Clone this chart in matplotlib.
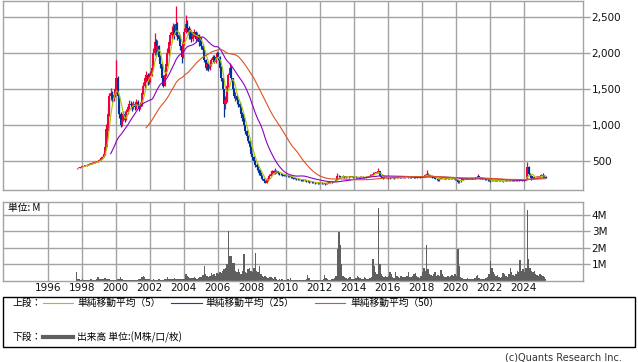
import numpy as np
import pandas as pd
import matplotlib
matplotlib.use("Agg")
import matplotlib.pyplot as plt
from matplotlib.patches import Rectangle
from matplotlib.lines import Line2D

# ---------------- data (monthly, 1997-09 .. 2025-04) ----------------
start_month = "1997-09"
end_month = "2025-04"

close_1997 = [400, 410, 420, 425]
close_1998 = [430, 440, 445, 450, 455, 462, 470, 478, 485, 492, 500, 510]
close_1999 = [520, 540, 560, 600, 700, 950, 1150, 1400, 1450, 1380, 1420, 1500]
close_2000 = [1650, 1400, 1150, 1000, 1080, 1150, 1100, 1180, 1250, 1300, 1280, 1260]
close_2001 = [1300, 1250, 1320, 1270, 1250, 1280, 1450, 1550, 1650, 1700, 1620, 1680]
close_2002 = [1700, 1800, 2000, 2150, 2050, 2100, 1950, 1850, 1650, 1550, 1700, 1850]
close_2003 = [2000, 2150, 2250, 2300, 2350, 2250, 2400, 2250, 2200, 2100, 1950, 2150]
close_2004 = [2300, 2400, 2350, 2250, 2300, 2200, 2250, 2300, 2200, 2250, 2150, 2200]
close_2005 = [2100, 2050, 1900, 1800, 1850, 1780, 1850, 1900, 1950, 1880, 1950, 2000]
close_2006 = [1950, 1800, 1650, 1500, 1300, 1350, 1550, 1700, 1800, 1650, 1500, 1400]
close_2007 = [1400, 1350, 1300, 1250, 1150, 1100, 1000, 920, 850, 780, 700, 600]
close_2008 = [560, 500, 450, 420, 380, 340, 300, 260, 230, 200, 240, 260]
close_2009 = [300, 330, 360, 340, 370, 360, 340, 330, 320, 310, 300, 305]
close_2010 = [300, 295, 290, 280, 270, 262, 258, 255, 250, 245, 240, 238]
close_2011 = [235, 238, 225, 220, 215, 218, 212, 205, 200, 205, 195, 200]
close_2012 = [205, 200, 195, 185, 190, 200, 210, 215, 210, 220, 232, 240]
close_2013 = [300, 290, 280, 285, 290, 275, 280, 285, 280, 290, 285, 280]
close_2014 = [285, 280, 275, 270, 280, 285, 280, 275, 280, 285, 290, 300]
close_2015 = [310, 330, 340, 345, 350, 360, 300, 280, 270, 275, 280, 270]
close_2016 = [265, 270, 275, 270, 265, 270, 275, 280, 275, 270, 275, 280]
close_2017 = [280, 285, 280, 275, 280, 285, 280, 278, 282, 285, 280, 285]
close_2018 = [290, 300, 310, 330, 310, 295, 285, 280, 270, 260, 250, 235]
close_2019 = [255, 265, 270, 265, 260, 265, 260, 255, 260, 262, 258, 250]
close_2020 = [240, 215, 220, 240, 250, 255, 260, 258, 262, 260, 265, 262]
close_2021 = [265, 268, 275, 290, 275, 265, 260, 255, 250, 245, 240, 235]
close_2022 = [225, 230, 235, 232, 228, 230, 235, 232, 228, 225, 230, 235]
close_2023 = [232, 235, 238, 236, 240, 238, 236, 240, 238, 242, 240, 245]
close_2024 = [240, 250, 420, 330, 300, 270, 265, 275, 285, 280, 290, 300]
close_2025 = [310, 300, 285, 280]

high_1997 = [410, 415, 425, 432]
high_1998 = [438, 448, 452, 458, 462, 470, 478, 485, 492, 500, 510, 522]
high_1999 = [535, 555, 580, 640, 760, 1020, 1250, 1450, 1520, 1480, 1460, 1550]
high_2000 = [1900, 1680, 1420, 1180, 1150, 1200, 1200, 1220, 1300, 1350, 1340, 1310]
high_2001 = [1340, 1330, 1360, 1350, 1300, 1320, 1480, 1600, 1700, 1760, 1720, 1720]
high_2002 = [1760, 1870, 2080, 2280, 2200, 2180, 2120, 1980, 1880, 1700, 1750, 1900]
high_2003 = [2080, 2200, 2300, 2380, 2420, 2400, 2660, 2430, 2300, 2250, 2130, 2200]
high_2004 = [2350, 2530, 2460, 2380, 2350, 2320, 2300, 2340, 2310, 2290, 2270, 2240]
high_2005 = [2230, 2130, 2060, 1920, 1880, 1870, 1880, 1930, 1980, 1970, 1980, 2030]
high_2006 = [2020, 1960, 1820, 1660, 1510, 1400, 1580, 1730, 1860, 1820, 1660, 1520]
high_2007 = [1460, 1420, 1370, 1320, 1260, 1180, 1110, 1010, 930, 860, 790, 710]
high_2008 = [620, 580, 520, 470, 430, 390, 345, 305, 270, 240, 270, 290]
high_2009 = [320, 360, 380, 380, 400, 385, 370, 350, 340, 330, 320, 320]
high_2010 = [320, 310, 305, 298, 285, 275, 270, 265, 262, 258, 252, 250]
high_2011 = [250, 252, 245, 235, 230, 228, 225, 218, 212, 215, 210, 210]
high_2012 = [215, 212, 205, 198, 200, 210, 220, 225, 222, 228, 242, 260]
high_2013 = [340, 310, 295, 300, 305, 295, 290, 295, 290, 300, 295, 290]
high_2014 = [295, 290, 285, 282, 290, 295, 290, 285, 290, 295, 300, 320]
high_2015 = [330, 345, 355, 355, 365, 410, 360, 300, 285, 285, 290, 285]
high_2016 = [275, 280, 285, 282, 275, 280, 285, 290, 285, 280, 285, 290]
high_2017 = [290, 295, 292, 285, 290, 295, 290, 288, 292, 295, 290, 295]
high_2018 = [300, 310, 320, 380, 335, 310, 298, 290, 282, 272, 262, 255]
high_2019 = [262, 272, 278, 275, 270, 272, 268, 263, 266, 270, 266, 260]
high_2020 = [255, 245, 235, 248, 256, 262, 266, 265, 268, 268, 272, 270]
high_2021 = [272, 275, 285, 320, 292, 278, 270, 264, 258, 252, 248, 242]
high_2022 = [238, 238, 242, 240, 236, 238, 242, 240, 236, 232, 238, 242]
high_2023 = [240, 242, 245, 244, 248, 246, 244, 248, 246, 250, 248, 252]
high_2024 = [250, 258, 495, 440, 340, 305, 280, 285, 295, 292, 300, 312]
high_2025 = [325, 335, 310, 292]

low_1997 = [395, 400, 408, 415]
low_1998 = [420, 428, 435, 440, 446, 450, 458, 465, 472, 480, 488, 495]
low_1999 = [505, 515, 535, 555, 590, 690, 920, 1130, 1350, 1330, 1340, 1390]
low_2000 = [1450, 1350, 1100, 980, 990, 1060, 1050, 1080, 1160, 1230, 1240, 1200]
low_2001 = [1230, 1210, 1230, 1240, 1200, 1230, 1270, 1430, 1520, 1600, 1560, 1580]
low_2002 = [1600, 1680, 1790, 1980, 1960, 1990, 1900, 1800, 1620, 1530, 1540, 1690]
low_2003 = [1830, 1980, 2120, 2200, 2250, 2200, 2240, 2180, 2150, 2050, 1860, 1930]
low_2004 = [2120, 2280, 2300, 2200, 2200, 2150, 2170, 2230, 2150, 2180, 2100, 2120]
low_2005 = [2060, 2000, 1880, 1770, 1770, 1760, 1770, 1830, 1880, 1860, 1870, 1940]
low_2006 = [1900, 1760, 1620, 1470, 1120, 1230, 1330, 1530, 1680, 1620, 1480, 1380]
low_2007 = [1340, 1290, 1250, 1200, 1120, 1060, 980, 880, 820, 750, 660, 580]
low_2008 = [520, 470, 420, 380, 350, 310, 270, 240, 210, 194, 200, 230]
low_2009 = [250, 290, 320, 320, 330, 340, 320, 315, 305, 295, 290, 290]
low_2010 = [290, 285, 280, 270, 262, 252, 248, 245, 240, 236, 232, 228]
low_2011 = [225, 228, 210, 210, 205, 208, 202, 195, 190, 195, 182, 188]
low_2012 = [195, 190, 185, 172, 178, 190, 200, 205, 200, 210, 222, 230]
low_2013 = [240, 275, 270, 275, 280, 265, 270, 275, 270, 278, 275, 270]
low_2014 = [275, 270, 265, 262, 268, 275, 272, 265, 270, 275, 282, 290]
low_2015 = [295, 310, 325, 335, 340, 340, 290, 270, 260, 265, 270, 262]
low_2016 = [255, 260, 265, 262, 258, 262, 265, 272, 268, 262, 266, 272]
low_2017 = [272, 276, 272, 268, 272, 276, 272, 270, 274, 276, 272, 276]
low_2018 = [280, 288, 298, 305, 300, 288, 278, 272, 262, 252, 240, 220]
low_2019 = [232, 252, 262, 258, 252, 256, 252, 248, 250, 255, 250, 242]
low_2020 = [235, 195, 205, 215, 238, 246, 252, 250, 254, 252, 258, 255]
low_2021 = [258, 260, 265, 272, 268, 258, 252, 248, 242, 238, 232, 226]
low_2022 = [218, 220, 226, 225, 220, 222, 226, 224, 220, 217, 222, 226]
low_2023 = [225, 228, 230, 228, 232, 230, 228, 232, 230, 234, 232, 236]
low_2024 = [232, 238, 248, 310, 280, 240, 255, 262, 272, 270, 278, 288]
low_2025 = [295, 288, 275, 270]

# volume in millions
vol_1997 = [0.5, 0.12, 0.08, 0.06]
vol_1998 = [0.08, 0.06, 0.05, 0.07, 0.05, 0.06, 0.08, 0.05, 0.06, 0.07, 0.1, 0.2]
vol_1999 = [0.12, 0.1, 0.08, 0.1, 0.15, 0.12, 0.1, 0.08, 0.06, 0.05, 0.07, 0.05]
vol_2000 = [0.05, 0.1, 0.12, 0.2, 0.08, 0.06, 0.05, 0.04, 0.05, 0.06, 0.05, 0.04]
vol_2001 = [0.04, 0.05, 0.06, 0.05, 0.08, 0.1, 0.25, 0.28, 0.2, 0.12, 0.1, 0.08]
vol_2002 = [0.06, 0.05, 0.08, 0.06, 0.05, 0.07, 0.1, 0.06, 0.05, 0.06, 0.12, 0.1]
vol_2003 = [0.2, 0.1, 0.08, 0.12, 0.1, 0.15, 0.12, 0.08, 0.1, 0.12, 0.1, 0.08]
vol_2004 = [0.1, 0.4, 0.3, 0.2, 0.15, 0.15, 0.18, 0.2, 0.15, 0.12, 0.15, 0.2]
vol_2005 = [0.2, 0.35, 0.9, 0.4, 0.3, 0.25, 0.3, 0.45, 0.35, 0.4, 0.3, 0.45]
vol_2006 = [0.4, 0.5, 0.45, 0.6, 0.7, 0.8, 1.0, 3.0, 1.5, 1.5, 1.1, 1.05]
vol_2007 = [0.6, 0.5, 0.7, 0.5, 0.4, 0.6, 1.6, 0.5, 0.45, 0.7, 0.8, 0.6]
vol_2008 = [0.5, 0.8, 1.7, 0.6, 0.5, 0.9, 0.4, 0.3, 0.25, 0.3, 0.2, 0.15]
vol_2009 = [0.2, 0.25, 0.15, 0.1, 0.2, 0.1, 0.05, 0.08, 0.05, 0.1, 0.05, 0.04]
vol_2010 = [0.05, 0.08, 0.05, 0.15, 0.05, 0.04, 0.06, 0.05, 0.04, 0.05, 0.06, 0.04]
vol_2011 = [0.05, 0.06, 0.1, 0.35, 0.15, 0.06, 0.05, 0.06, 0.05, 0.04, 0.05, 0.06]
vol_2012 = [0.05, 0.06, 0.1, 0.35, 0.15, 0.08, 0.06, 0.05, 0.08, 0.1, 0.15, 0.3]
vol_2013 = [1.9, 2.95, 2.2, 1.0, 0.3, 0.2, 0.15, 0.1, 0.15, 0.2, 0.12, 0.1]
vol_2014 = [0.1, 0.15, 0.3, 0.2, 0.15, 0.1, 0.12, 0.2, 0.15, 0.1, 0.12, 0.15]
vol_2015 = [0.2, 1.3, 0.9, 0.5, 0.4, 4.45, 1.0, 0.4, 0.3, 0.2, 0.3, 0.25]
vol_2016 = [0.3, 0.5, 0.4, 0.2, 0.15, 0.5, 0.3, 0.2, 0.15, 0.3, 0.2, 0.25]
vol_2017 = [0.2, 0.3, 0.5, 0.25, 0.2, 0.3, 0.4, 0.45, 0.3, 0.2, 0.15, 0.3]
vol_2018 = [0.5, 0.8, 0.6, 2.2, 0.7, 0.4, 0.35, 0.3, 0.4, 0.5, 0.3, 0.35]
vol_2019 = [0.3, 0.65, 0.4, 0.3, 0.2, 0.25, 0.3, 0.2, 0.3, 0.35, 0.3, 0.4]
vol_2020 = [0.3, 1.95, 0.9, 0.2, 0.15, 0.1, 0.08, 0.1, 0.15, 0.1, 0.08, 0.1]
vol_2021 = [0.1, 0.15, 0.3, 0.35, 0.15, 0.1, 0.08, 0.1, 0.12, 0.15, 0.2, 0.4]
vol_2022 = [1.2, 0.8, 0.5, 0.4, 0.3, 0.35, 0.2, 0.15, 0.25, 0.45, 0.4, 0.3]
vol_2023 = [0.25, 0.4, 0.8, 0.5, 0.35, 0.3, 0.4, 0.6, 0.5, 1.25, 0.6, 0.7]
vol_2024 = [0.5, 0.8, 4.3, 1.3, 0.8, 0.6, 0.5, 0.6, 0.4, 0.35, 0.3, 0.4]
vol_2025 = [0.35, 0.3, 0.2, 0.1]

years_data = list(range(1997, 2026))
price_ticks = [500, 1000, 1500, 2000, 2500]
price_labels = ["500", "1,000", "1,500", "2,000", "2,500"]
vol_ticks = [1, 2, 3, 4]
vol_labels = ["1M", "2M", "3M", "4M"]
year_ticks = list(range(1996, 2025, 2))

legend_top_label = "上段："
legend_bottom_label = "下段："
ma_labels = ["単純移動平均（5）", "単純移動平均（25）", "単純移動平均（50）"]
vol_legend_label = "出来高 単位:(M株/口/枚)"
unit_label = "単位: M"
copyright_text = "(c)Quants Research Inc."

# ---------------- assemble ----------------
g = globals()
close = np.array(sum([g[f"close_{y}"] for y in years_data], []), dtype=float)
high = np.array(sum([g[f"high_{y}"] for y in years_data], []), dtype=float)
low = np.array(sum([g[f"low_{y}"] for y in years_data], []), dtype=float)
vol = np.array(sum([g[f"vol_{y}"] for y in years_data], []), dtype=float)
months = pd.period_range(start_month, end_month, freq="M")
t = np.array([p.year + (p.month - 0.5) / 12.0 for p in months])
openp = np.concatenate([[close[0]], close[:-1]])

s = pd.Series(close)
ma5 = s.rolling(5).mean().values
ma25 = s.rolling(25).mean().values
ma50 = s.rolling(50).mean().values

# ---------------- figure ----------------
W, H = 638, 362
fig = plt.figure(figsize=(W / 100, H / 100), dpi=100)
fig.patch.set_facecolor("white")

def fx(px):
    return px / W

def fy(py):
    return 1 - py / H

GRID = "#a3a3a3"
UP = "#f0003c"
DOWN = "#003399"
C5 = "#a8c400"
C25 = "#8c00c8"
C50 = "#dc5420"
VOLC = "#5f5f5f"

L, R = 3.3, 582.7
ax = fig.add_axes([fx(L), fy(190.3), fx(R - L), (190.3 - 0.5) / H])
axv = fig.add_axes([fx(L), fy(280.7), fx(R - L), (280.7 - 201.7) / H])

xmin = 1996 + (L - 47.7) / 17.0
xmax = 1996 + (R - 47.7) / 17.0

for a in (ax, axv):
    a.set_xlim(xmin, xmax)
    a.set_xticks(year_ticks)
    a.grid(True, color=GRID, lw=1)
    a.set_axisbelow(True)
    for sp in a.spines.values():
        sp.set_color(GRID)
        sp.set_linewidth(1)
    a.yaxis.tick_right()
    a.tick_params(axis="y", length=5, width=1, color=GRID, pad=1.5,
                  labelsize=7.5, labelcolor="#111111")

# candles
up = close >= openp
colors = np.where(up, UP, DOWN)
ax.vlines(t, low, high, colors=colors, lw=0.9, zorder=2)
body_bottom = np.minimum(openp, close)
body_h = np.maximum(np.abs(close - openp), 4)
ax.bar(t, body_h, bottom=body_bottom, width=0.12, color=colors, lw=0, zorder=2)

ax.plot(t, ma5, color=C5, lw=0.8, zorder=3)
ax.plot(t, ma25, color=C25, lw=0.8, zorder=3)
ax.plot(t, ma50, color=C50, lw=0.8, zorder=3)

ax.set_ylim(97, 2733)
ax.set_yticks(price_ticks)
ax.set_yticklabels(price_labels)
ax.tick_params(axis="x", length=0, labelbottom=False)

# volume
axv.bar(t, vol, width=0.083, color=VOLC, lw=0, zorder=2)
axv.set_ylim(0, 4.81)
axv.set_yticks(vol_ticks)
axv.set_yticklabels(vol_labels)
axv.tick_params(axis="x", length=0, pad=2, labelsize=7.5, labelcolor="#111111")
axv.set_xticklabels([str(y) for y in year_ticks])

jp = ["Noto Sans CJK JP", "DejaVu Sans"]
fig.text(fx(7.5), fy(208.3), unit_label, family=jp, fontsize=7, va="center", ha="left")

# legend box
fig.add_artist(Rectangle((fx(3.3), fy(346.7)), fx(632), (346.7 - 297) / H,
                         transform=fig.transFigure, fill=False,
                         edgecolor="black", lw=1))
ytop, ybot = 303, 337.3
fig.text(fx(12.7), fy(ytop), legend_top_label, family=jp, fontsize=7, va="center")
fig.text(fx(12.7), fy(ybot), legend_bottom_label, family=jp, fontsize=7, va="center")
for (x0, x1, xt, c, lab) in [(43, 72.7, 77.3, C5, ma_labels[0]),
                             (170.7, 201.7, 205.7, C25, ma_labels[1]),
                             (315, 345, 350.7, C50, ma_labels[2])]:
    fig.add_artist(Line2D([fx(x0), fx(x1)], [fy(ytop), fy(ytop)], color=c, lw=0.8,
                          transform=fig.transFigure))
    fig.text(fx(xt), fy(ytop), lab, family=jp, fontsize=7, va="center")
fig.add_artist(Line2D([fx(43), fx(72.7)], [fy(ybot), fy(ybot)], color=VOLC, lw=3,
                      transform=fig.transFigure))
fig.text(fx(77.3), fy(ybot), vol_legend_label, family=jp, fontsize=7, va="center")

fig.text(fx(621.7), fy(357.5), copyright_text, fontsize=7, ha="right", va="center",
         color="#333333")

fig.savefig("out.png", dpi=100)
